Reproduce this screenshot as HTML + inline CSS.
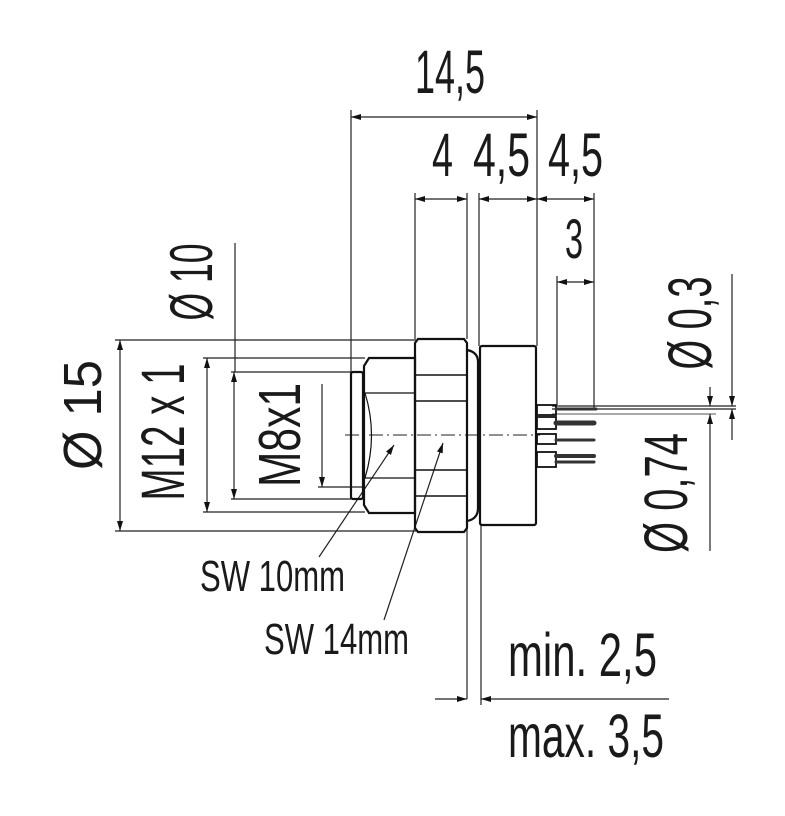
<!DOCTYPE html>
<html><head><meta charset="utf-8"><style>html,body{margin:0;padding:0;background:#fff}svg{display:block}</style></head><body>
<svg width="785" height="816" viewBox="0 0 785 816" xmlns="http://www.w3.org/2000/svg">
<defs>
<marker id="a" viewBox="0 0 10 6" refX="10" refY="3" markerWidth="10" markerHeight="6" markerUnits="userSpaceOnUse" orient="auto-start-reverse"><path d="M0,0L10,3L0,6z" fill="#111"/></marker>
</defs>
<g font-family="Liberation Sans, sans-serif" fill="#1a1a1a" font-size="61">
<text x="415" y="93" textLength="70" lengthAdjust="spacingAndGlyphs">14,5</text>
<text x="432" y="176" textLength="21" lengthAdjust="spacingAndGlyphs">4</text>
<text x="473" y="176" textLength="57" lengthAdjust="spacingAndGlyphs">4,5</text>
<text x="548" y="176" textLength="55" lengthAdjust="spacingAndGlyphs">4,5</text>
<text x="565" y="258" textLength="18" lengthAdjust="spacingAndGlyphs" font-size="56">3</text>
<text x="508" y="676" textLength="149" lengthAdjust="spacingAndGlyphs">min. 2,5</text>
<text x="508" y="757" textLength="156" lengthAdjust="spacingAndGlyphs">max. 3,5</text>
<text x="200" y="591" textLength="145" lengthAdjust="spacingAndGlyphs" font-size="44">SW 10mm</text>
<text x="264" y="654" textLength="145" lengthAdjust="spacingAndGlyphs" font-size="44">SW 14mm</text>
<g text-anchor="middle">
<text transform="translate(212,282) rotate(-90)" textLength="77" lengthAdjust="spacingAndGlyphs" font-size="60">Ø 10</text>
<text transform="translate(101,415) rotate(-90)" textLength="110" lengthAdjust="spacingAndGlyphs" font-size="54">Ø 15</text>
<text transform="translate(184,432) rotate(-90)" textLength="137" lengthAdjust="spacingAndGlyphs" font-size="61">M12 x 1</text>
<text transform="translate(300,435) rotate(-90)" textLength="104" lengthAdjust="spacingAndGlyphs" font-size="59">M8x1</text>
<text transform="translate(711,323) rotate(-90)" textLength="93" lengthAdjust="spacingAndGlyphs" font-size="61">Ø 0,3</text>
<text transform="translate(687,493) rotate(-90)" textLength="120" lengthAdjust="spacingAndGlyphs" font-size="61">Ø 0,74</text>
</g>
</g>
<g stroke="#222" stroke-width="1.2" fill="none">
<line x1="351" y1="110" x2="351" y2="372"/>
<line x1="537" y1="110" x2="537" y2="346"/>
<line x1="415" y1="193" x2="415" y2="339"/>
<line x1="467" y1="193" x2="467" y2="339"/>
<line x1="479" y1="193" x2="479" y2="346"/>
<line x1="594" y1="193" x2="594" y2="408"/>
<line x1="557" y1="276" x2="557" y2="405"/>
<line x1="235" y1="243" x2="235" y2="372"/>
<line x1="351" y1="117" x2="537" y2="117" marker-start="url(#a)" marker-end="url(#a)"/>
<line x1="415" y1="199" x2="467" y2="199" marker-start="url(#a)" marker-end="url(#a)"/>
<line x1="479" y1="199" x2="537" y2="199" marker-start="url(#a)" marker-end="url(#a)"/>
<line x1="537" y1="199" x2="594" y2="199" marker-start="url(#a)" marker-end="url(#a)"/>
<line x1="557" y1="282" x2="594" y2="282" marker-start="url(#a)" marker-end="url(#a)"/>
<line x1="115" y1="340" x2="416" y2="340"/>
<line x1="115" y1="531" x2="416" y2="531"/>
<line x1="120" y1="340" x2="120" y2="531" marker-start="url(#a)" marker-end="url(#a)"/>
<line x1="203" y1="358" x2="365" y2="358"/>
<line x1="203" y1="512" x2="365" y2="512"/>
<line x1="207" y1="358" x2="207" y2="512" marker-start="url(#a)" marker-end="url(#a)"/>
<line x1="231" y1="372" x2="351" y2="372"/>
<line x1="231" y1="499" x2="351" y2="499"/>
<line x1="234" y1="372" x2="234" y2="499" marker-start="url(#a)" marker-end="url(#a)"/>
<line x1="322" y1="384" x2="322" y2="487" marker-end="url(#a)"/>
<line x1="318" y1="487" x2="365" y2="487"/>
<line x1="552" y1="406" x2="736" y2="406"/>
<line x1="552" y1="409" x2="736" y2="409"/>
<line x1="552" y1="414" x2="716" y2="414" stroke="#777"/>
<line x1="732" y1="274" x2="732" y2="406" marker-end="url(#a)"/>
<line x1="732" y1="440" x2="732" y2="409" marker-end="url(#a)"/>
<line x1="710" y1="387" x2="710" y2="406" marker-end="url(#a)"/>
<line x1="710" y1="551" x2="710" y2="414" marker-end="url(#a)"/>
<line x1="467" y1="521" x2="467" y2="699"/>
<line x1="481" y1="525" x2="481" y2="705"/>
<line x1="435" y1="699" x2="467" y2="699" marker-end="url(#a)"/>
<line x1="669" y1="699" x2="481" y2="699" marker-end="url(#a)"/>
<line x1="319" y1="557" x2="394" y2="445" marker-end="url(#a)"/>
<line x1="384" y1="620" x2="443" y2="443" marker-end="url(#a)"/>
<line x1="345" y1="435" x2="540" y2="435" stroke-dasharray="14,4,2,4" stroke-width="1"/>
</g>
<g stroke="#111" stroke-width="2.2" fill="none">
<rect x="351" y="372" width="12" height="127" rx="2"/>
<path d="M369,358 H415 V513 H369 L364,505 V366 Z"/>
<line x1="365" y1="393" x2="415" y2="393" stroke-width="1.2"/>
<line x1="365" y1="478" x2="415" y2="478" stroke-width="1.2"/>
<path d="M365,393 Q378,435 365,478" stroke-width="1.2"/>
<path d="M418,339 H464 L467,343 V528 L464,532 H418 L415,528 V343 Z"/>
<line x1="416" y1="375" x2="467" y2="375" stroke-width="1.5"/>
<line x1="416" y1="401" x2="467" y2="401" stroke-width="1.5"/>
<line x1="416" y1="470" x2="467" y2="470" stroke-width="1.5"/>
<line x1="416" y1="496" x2="467" y2="496" stroke-width="1.5"/>
<path d="M467,350 Q478,352 478,362 V508 Q478,519 467,521"/>
<rect x="480" y="346" width="56" height="179" rx="2"/>
<rect x="537" y="405" width="19" height="10" stroke-width="1.8"/>
<rect x="537" y="417" width="19" height="12" stroke-width="1.8"/>
<rect x="537" y="434" width="19" height="10" stroke-width="1.8"/>
<rect x="537" y="452" width="19" height="15" stroke-width="1.8"/>
</g>
<g stroke="#333" stroke-linecap="round">
<line x1="556" y1="409" x2="596" y2="409" stroke-width="3"/>
<line x1="556" y1="423" x2="594" y2="423" stroke-width="5"/>
<line x1="556" y1="440" x2="594" y2="440" stroke-width="3"/>
<line x1="556" y1="456" x2="594" y2="456" stroke-width="4"/>
<line x1="556" y1="462" x2="594" y2="462" stroke-width="3"/>
</g>
</svg>
</body></html>
